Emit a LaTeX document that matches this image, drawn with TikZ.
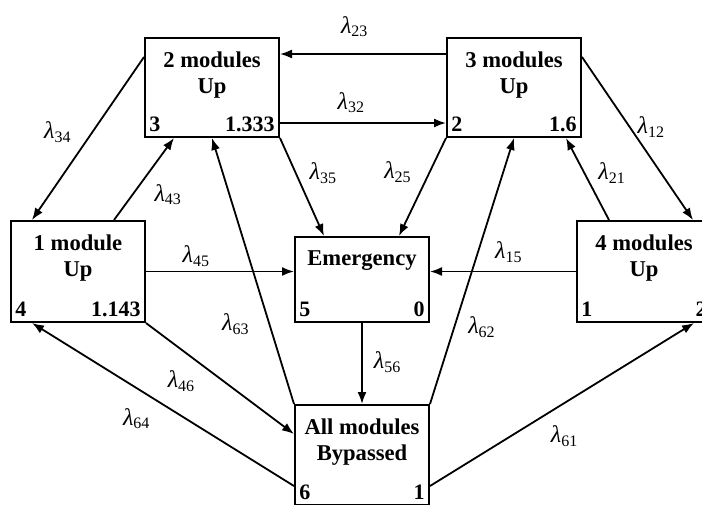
\documentclass[tikz,border=0pt]{standalone}
\usepackage{fontspec}
\setmainfont{Liberation Serif}
\usetikzlibrary{arrows.meta,positioning}
\newcommand{\rate}[1]{\textit{λ}\textsubscript{#1}}
\newcommand{\statebox}[6]{%
  \node[modbox,minimum height=#3] (#1) at (#2) {};
  \node[modname,below=7pt of #1.north] (#1name) {#4};
  \node[modnum,anchor=south west] (#1no) at (#1.south west) {#5};
  \node[modnum,anchor=south east] (#1val) at (#1.south east) {#6};
}

\begin{document}
\begin{tikzpicture}[x=0.5pt,y=-0.5pt,
  modbox/.style={draw,line width=1pt,minimum width=67pt,inner sep=0pt},
  modname/.style={align=center,inner sep=0pt,font=\fontsize{11.3}{13}\selectfont\bfseries},
  modnum/.style={inner xsep=2.5pt,inner ysep=3pt,font=\fontsize{11}{13}\selectfont\bfseries},
  arr/.style={-{Latex[length=6pt,width=4.5pt]},line width=0.9pt},
  ratelbl/.style={inner sep=0pt,font=\fontsize{12}{14}\selectfont}]
\useasboundingbox (0,0) rectangle (702,504);

\statebox{b2}{212,87.5}{49.5pt}{2 modules\\Up}{3}{1.333}
\statebox{b3}{514,87.5}{49.5pt}{3 modules\\Up}{2}{1.6}
\statebox{b4}{78,271.5}{50.5pt}{1 module\\Up}{4}{1.143}
\statebox{b5}{362,279.5}{42.5pt}{Emergency}{5}{0}
\statebox{b1}{644,271.5}{50.5pt}{4 modules\\Up}{1}{2}
\statebox{b6}{362,455}{50pt}{All modules\\Bypassed}{6}{1}

\draw[arr] ([yshift=-8.5pt]b3.north west) -- node[ratelbl,pos=.55,above=8pt] (r23) {\rate{23}} ([yshift=-8.5pt]b2.north east);
\draw[arr] ([yshift=7.5pt]b2.south east) -- node[ratelbl,pos=.43,above=4.5pt] (r32) {\rate{32}} ([yshift=7.5pt]b3.south west);
\draw[arr] ([yshift=-10pt]b2.north west) -- node[ratelbl,pos=.46,left=10pt] (r34) {\rate{34}} ([xshift=11pt]b4.north west);
\draw[arr] ([xshift=-16pt]b4.north east) -- node[ratelbl,pos=.31,right=10.5pt] (r43) {\rate{43}} ([xshift=15pt]b2.south west);
\draw[arr] (b2.south east) -- node[ratelbl,pos=.36,right=6.5pt] (r35) {\rate{35}} ([xshift=15pt]b5.north west);
\draw[arr] (b3.south west) -- node[ratelbl,pos=.35,left=8.5pt] (r25) {\rate{25}} ([xshift=-15.5pt]b5.north east);
\draw[arr] ([yshift=-10pt]b3.north east) -- node[ratelbl,pos=.43,right=3.5pt] (r12) {\rate{12}} ([xshift=-9.5pt]b1.north east);
\draw[arr] ([xshift=16.5pt]b1.north west) -- node[ratelbl,pos=.57,right=6.5pt] (r21) {\rate{21}} ([xshift=-8pt]b3.south east);
\draw[arr] (b4.east) -- node[ratelbl,pos=.34,above=2pt] (r45) {\rate{45}} (b5.west |- b4.east);
\draw[arr] (b1.west) -- node[ratelbl,pos=.46,above=4pt] (r15) {\rate{15}} (b5.east |- b1.west);
\draw[arr] (b5.south) -- node[ratelbl,pos=.48,right=5.5pt] (r56) {\rate{56}} (b6.north);
\draw[arr] (b6.north west) -- node[ratelbl,pos=.3,left=9.5pt] (r63) {\rate{63}} (b2.south);
\draw[arr] (b6.north east) -- node[ratelbl,pos=.29,right=6.5pt] (r62) {\rate{62}} (b3.south);
\draw[arr] (b4.south east) -- node[ratelbl,pos=.24,below=10pt] (r46) {\rate{46}} ([yshift=-15pt]b6.north west);
\draw[arr] ([yshift=10pt]b6.south west) -- node[ratelbl,pos=.6,below=9.5pt] (r64) {\rate{64}} ([xshift=11pt]b4.south west);
\draw[arr] ([yshift=10pt]b6.south east) -- node[ratelbl,pos=.51,below=11pt] (r61) {\rate{61}} ([xshift=-9pt]b1.south east);
\end{tikzpicture}
\end{document}
